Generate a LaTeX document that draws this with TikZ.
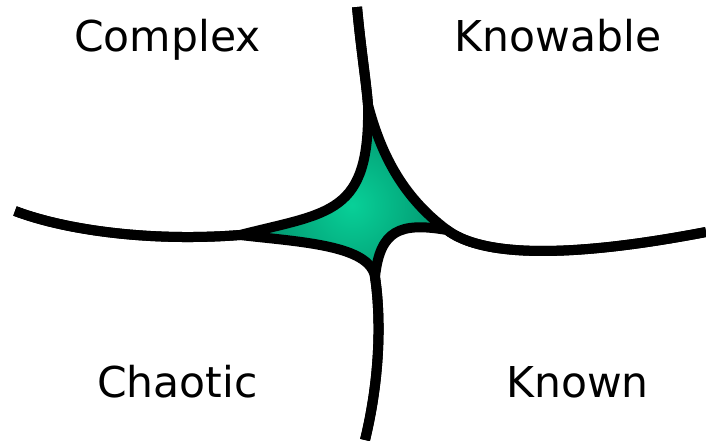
\documentclass[tikz,border=0pt]{standalone}
\usepackage{fontspec}
\setmainfont{DejaVu Sans}
\definecolor{gin}{RGB}{8,208,152}
\definecolor{gout}{RGB}{0,132,98}
\begin{document}
\begin{tikzpicture}[x=1pt,y=-1pt,
  bound/.style={line width=10pt, line join=round, line cap=butt},
  lab/.style={font=\fontsize{42.5}{50}\selectfont, anchor=base, inner sep=0pt}]
\useasboundingbox (0,0) rectangle (706,440);
% key points
\coordinate (tp) at (357,7);
\coordinate (lp) at (15,211);
\coordinate (rp) at (706,232);
\coordinate (bp) at (365,440);
\coordinate (T) at (368,105);
\coordinate (L) at (240,235);
\coordinate (R) at (447,230);
\coordinate (B) at (375,277);
% green centre
\begin{scope}
  \clip (T) .. controls (380,150) and (400,195) .. (R)
        .. controls (400,222) and (380,230) .. (B)
        .. controls (370,245) and (300,242) .. (L)
        .. controls (330,212) and (370,215) .. (T) -- cycle;
  \shade[inner color=gin, outer color=gout] (352,205) circle (120);
\end{scope}
% quadrant boundaries
\draw[bound] (tp) .. controls (361,50) and (366,80) .. (T)
  .. controls (370,215) and (330,212) .. (L)
  .. controls (150,242) and (65,230) .. (lp);
\draw[bound] (tp) .. controls (361,50) and (366,80) .. (T)
  .. controls (380,150) and (400,195) .. (R)
  .. controls (480,255) and (560,260) .. (rp);
\draw[bound] (lp) .. controls (65,230) and (150,242) .. (L)
  .. controls (300,242) and (370,245) .. (B)
  .. controls (380,310) and (382,370) .. (bp);
\draw[bound] (rp) .. controls (560,260) and (480,255) .. (R)
  .. controls (400,222) and (380,230) .. (B)
  .. controls (380,310) and (382,370) .. (bp);
% labels
\node[lab] (complex) at (167.5,51) {Complex};
\node[lab] (knowable) at (558,51) {Knowable};
\node[lab] (chaotic) at (177.5,397) {Chaotic};
\node[lab] (known) at (577.5,397) {Known};
\end{tikzpicture}
\end{document}
